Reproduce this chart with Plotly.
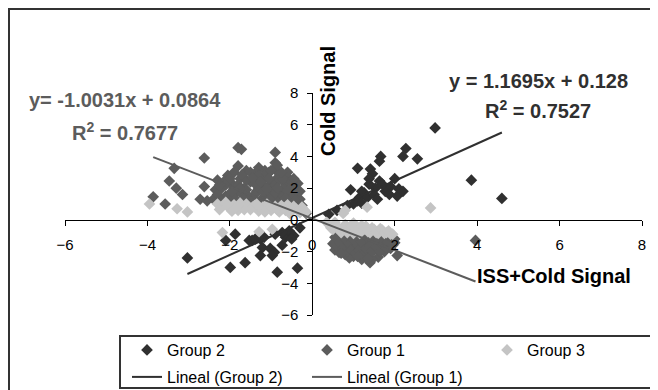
import plotly.graph_objects as go

# ---------------- data ----------------
g2_x = [2.98, 2.27, 2.2, 2.55, 1.66, 1.63, 1.1, 1.41, 1.46, 1.38, 0.93, 1.63, 2.0, 2.1, 2.06, 2.2,
        1.9, 1.77, 1.7, 1.53, 1.26, 1.14, 1.33, 1.5, 1.2, 1.87, 3.86, 4.6, 1.38, 1.58, 1.0, 1.1,
        0.85, 1.2, 0.6, 0.4,
        -3.03, -1.87, -2.1, -1.99, -1.63, -1.46, -1.26, -1.17, -1.21, -1.26, -1.02, -0.92, -0.97,
        -0.73, -0.65, -0.85, -0.36, -0.9, -0.56, -0.73, -1.53, -1.38, -0.45, -0.5, -0.3]
g2_y = [5.8, 4.5, 4.0, 3.85, 4.0, 3.7, 3.25, 3.2, 2.9, 2.6, 1.9, 2.45, 2.6, 1.95, 1.5, 1.8,
        2.1, 1.8, 2.25, 2.0, 1.7, 1.4, 1.4, 1.6, 1.8, 1.6, 2.5, 1.35, 2.25, 1.3, 1.0, 1.2,
        0.9, 1.05, 0.6, 0.35,
        -2.4, -0.9, -1.3, -3.0, -2.7, -1.3, -1.2, -1.1, -1.75, -2.25, -1.8, -2.05, -2.25,
        -1.6, -1.1, -3.3, -3.05, -0.9, -0.7, -0.8, -1.3, -1.2, -1.0, -1.2, -0.5]

g1_x = [-2.4, -2.35, -2.3, -2.25, -2.2, -2.1, -2.05, -2.0, -1.95, -1.9, -1.85, -1.8, -1.75, -1.7,
        -1.65, -1.6, -1.55, -1.5, -1.45, -1.4, -1.35, -1.3, -1.25, -1.2, -1.15, -1.1, -1.05, -1.0,
        -0.95, -0.9, -0.85, -0.8, -0.75, -0.7, -0.65, -0.6, -0.55, -0.5, -0.45, -0.4, -0.35, -0.3,
        -0.25, -0.2, -0.15, -1.9, -1.6, -1.3, -1.0, -0.7, -1.45, -1.2, -0.95, -2.15, -1.7, -1.35,
        -1.05, -0.8, -0.55, -2.0, -1.55, -1.15, -0.9, -0.6,
        -2.3, -2.2, -2.1, -2.0, -1.9, -1.8, -1.8, -1.7, -1.6, -1.5, -1.5, -1.4, -1.4, -1.3, -1.3,
        -1.2, -1.1, -1.1, -1.0, -1.0, -0.9, -0.9, -0.8, -0.8, -0.7, -0.7, -0.6, -0.6, -0.5, -0.5,
        -0.4, -0.4, -0.3, -1.65, -1.25, -0.85, -1.95, -2.25, -1.45, -1.05, -0.65, -1.75, -1.15,
        -0.75, -0.45,
        -1.8, -1.72, -0.9, -2.62, -0.9, -0.85, -3.35, -3.47, -3.3, -3.15, -3.86, -3.57, -2.72,
        -2.62, -2.55,
        0.5, 0.55, 0.6, 0.65, 0.7, 0.75, 0.8, 0.85, 0.9, 0.95, 1.0, 1.05, 1.1, 1.15, 1.2, 1.25,
        1.3, 1.35, 1.4, 1.45, 1.5, 1.55, 1.6, 1.65, 1.7, 1.75, 1.8, 1.85, 1.9, 1.95, 2.0, 2.06,
        1.0, 1.3, 1.6, 0.7, 1.2, 1.5, 0.9, 1.45,
        0.55, 0.6, 0.65, 0.75, 0.8, 0.85, 0.9, 0.95, 1.0, 1.05, 1.1, 1.15, 1.2, 1.25, 1.3, 1.35,
        1.4, 1.45, 1.5, 1.55, 1.6, 1.65, 1.7, 1.75, 1.8, 1.85, 1.9, 1.95, 2.0, 1.35, 1.1, 0.7,
        3.96]
g1_y = [1.3, 1.9, 2.5, 1.0, 2.0, 1.5, 2.8, 1.1, 2.3, 3.0, 1.7, 3.4, 2.6, 1.2,
        2.0, 3.1, 1.5, 2.4, 0.9, 2.9, 1.8, 3.3, 1.2, 2.2, 2.7, 1.6, 3.0, 1.0,
        2.0, 2.5, 1.4, 2.9, 1.8, 1.1, 2.3, 2.7, 1.5, 2.0, 1.0, 1.7, 2.3, 1.3,
        0.9, 0.6, 0.4, 2.0, 2.5, 2.0, 2.4, 2.0, 1.3, 1.4, 1.2, 2.4, 2.85, 2.6,
        1.8, 1.5, 1.2, 1.6, 1.1, 3.1, 3.2, 3.0,
        1.6, 1.2, 2.2, 2.6, 1.4, 2.2, 1.0, 1.6, 1.9, 1.1, 3.0, 2.3, 1.6, 2.8, 1.0,
        1.8, 2.0, 2.9, 1.4, 3.1, 1.7, 2.2, 1.2, 2.5, 1.5, 2.6, 1.8, 1.0, 2.4, 1.4,
        2.0, 1.2, 1.8, 1.3, 2.4, 2.0, 1.8, 2.2, 2.65, 2.6, 1.35, 2.0, 1.1,
        3.0, 2.6,
        4.55, 4.45, 4.25, 3.9, 3.6, 3.45, 3.25, 2.45, 2.0, 1.6, 1.45, 1.0, 1.3,
        2.1, 1.2,
        -1.5, -1.9, -1.2, -2.05, -1.6, -1.0, -2.2, -1.4, -1.8, -1.1, -2.3, -1.5, -2.0, -1.2, -2.5, -1.7,
        -1.0, -2.2, -2.7, -1.4, -1.9, -1.1, -2.35, -1.6, -1.2, -2.0, -1.5, -1.0, -1.8, -1.3, -1.45, -2.25,
        -1.7, -1.4, -1.9, -1.3, -1.0, -1.5, -2.4, -2.5,
        -1.1, -1.7, -1.4, -1.8, -1.2, -2.0, -1.5, -1.9, -1.2, -2.1, -1.6, -1.9, -1.4, -2.2, -1.8, -1.2,
        -1.6, -2.0, -1.2, -1.7, -1.3, -2.0, -1.6, -1.3, -1.8, -1.4, -1.1, -1.6, -1.2, -2.45, -2.3, -2.1,
        -1.3]

g3_x = [-2.3, -2.2, -2.1, -2.0, -1.9, -1.8, -1.7, -1.6, -1.5, -1.4, -1.3, -1.2, -1.1, -1.0, -0.9,
        -0.8, -0.7, -0.6, -0.5, -0.4, -0.3, -0.25, -3.95, -3.28, -3.03,
        -2.25, -2.05, -1.85, -1.65, -1.45, -1.25, -1.05, -0.85, -0.65, -0.45, -0.35, -0.15,
        -1.75, -1.15, -0.55, -0.75, -1.35, -1.95,
        -2.18, -1.29, -0.97,
        0.8, 1.33, 2.87, 0.75,
        0.4, 0.5, 0.6, 0.7, 0.8, 0.9, 1.0, 1.1, 1.2, 1.3, 1.4, 1.5, 1.6, 1.7, 1.8, 1.9, 0.55,
        0.45, 0.65, 0.75, 0.85, 0.95, 1.05, 1.15, 1.25, 1.35, 1.45, 1.55, 1.65, 1.75, 1.85, 1.95,
        1.0, 1.2, 0.35]
g3_y = [1.0, 0.8, 1.1, 0.7, 0.95, 0.6, 0.85, 1.0, 0.65, 0.9, 0.55, 0.8, 1.0, 0.6, 0.85,
        0.5, 0.75, 0.95, 0.55, 0.7, 0.45, 0.8, 1.0, 0.7, 0.5,
        0.65, 0.9, 0.75, 0.65, 0.8, 0.7, 0.8, 0.65, 0.6, 0.85, 0.6, 0.5,
        1.05, 0.5, 0.4, 0.9, 1.0, 0.55,
        -0.8, -0.75, -0.6,
        0.6, 0.8, 0.75, 0.4,
        -0.3, -0.6, -0.4, -0.8, -0.3, -0.6, -0.85, -0.5, -0.7, -0.4, -0.8, -0.6, -0.85, -0.65, -0.8, -0.9, -0.15,
        -0.5, -0.6, -0.5, -0.8, -0.4, -0.7, -0.85, -0.6, -0.75, -0.5, -0.8, -0.55, -0.85, -0.7, -0.9,
        -0.2, -0.35, -0.15]

# trendline coefficients (from the equations printed on the chart)
fit2_slope, fit2_icpt, fit2_r2 = 1.1695, 0.128, 0.7527
fit1_slope, fit1_icpt, fit1_r2 = -1.0031, 0.0864, 0.7677

x_ticks = [-6, -4, -2, 0, 2, 4, 6, 8]
y_ticks = [-6, -4, -2, 0, 2, 4, 6, 8]

# ---------------- figure ----------------
C2, C1, C3 = "#303030", "#5c5c5c", "#c4c4c4"
FONT = "Liberation Sans, Arial, sans-serif"
BOLD = "Liberation Sans, Arial, sans-serif"

fig = go.Figure()
fig.add_trace(go.Scatter(x=g2_x, y=g2_y, mode="markers", name="Group 2", legend="legend",
                         marker=dict(symbol="diamond", size=9, color=C2)))
fig.add_trace(go.Scatter(x=g1_x, y=g1_y, mode="markers", name="Group 1", legend="legend",
                         marker=dict(symbol="diamond", size=9, color=C1)))
fig.add_trace(go.Scatter(x=g3_x, y=g3_y, mode="markers", name="Group 3", legend="legend",
                         marker=dict(symbol="diamond", size=9, color=C3)))

t2x = [min(g2_x), max(g2_x)]
t1x = [min(g1_x), max(g1_x)]
fig.add_trace(go.Scatter(x=t2x, y=[fit2_slope * v + fit2_icpt for v in t2x], mode="lines",
                         name="Lineal (Group 2)", legend="legend2", line=dict(color=C2, width=2)))
fig.add_trace(go.Scatter(x=t1x, y=[fit1_slope * v + fit1_icpt for v in t1x], mode="lines",
                         name="Lineal (Group 1)", legend="legend2", line=dict(color=C1, width=2)))

# page has an 8px body margin, so the figure is 8px smaller than the window
OFF = 8
W, H = 650, 382
L, R, T, B = 57, 16, 85, 75
pw, ph = W - L - R, H - T - B


def px(xs):  # screen x (reference pixels) -> paper x
    return (xs - OFF - L) / pw


def py(ys):  # screen y (reference pixels) -> paper y
    return (H - B - (ys - OFF)) / ph


axis_common = dict(showgrid=False, zeroline=False, showline=True, linecolor="black", linewidth=1,
                   ticks="outside", ticklen=5, tickcolor="black", anchor="free",
                   tickfont=dict(family=FONT, size=15, color="black"))
fig.update_xaxes(range=[-6, 8], tickvals=x_ticks, position=6 / 14, ticklabelstandoff=6,
                 **axis_common)
fig.update_yaxes(range=[-6, 8], tickvals=y_ticks, position=6 / 14, ticklabelstandoff=6,
                 **axis_common)

annots = [
    dict(x=px(125), y=py(100), text=f"y= {fit1_slope}x + {fit1_icpt}", font=dict(color=C1, size=20)),
    dict(x=px(125), y=py(131), text=f"R<sup>2</sup> = {fit1_r2}", font=dict(color=C1, size=20)),
    dict(x=px(538), y=py(81), text=f"y = {fit2_slope}x + {fit2_icpt}", font=dict(color=C2, size=20)),
    dict(x=px(538), y=py(109), text=f"R<sup>2</sup> = {fit2_r2}", font=dict(color=C2, size=20)),
    dict(x=px(328), y=py(101), text="Cold Signal", textangle=-90, font=dict(color="black", size=20)),
    dict(x=px(475), y=py(276), text="ISS+Cold Signal", xanchor="left",
         font=dict(color="black", size=20)),
]
for a in annots:
    a["font"]["family"] = BOLD
    a["font"]["weight"] = "bold"
    a.setdefault("xanchor", "center")
    fig.add_annotation(xref="paper", yref="paper", showarrow=False, yanchor="middle", **a)

shapes = [
    dict(type="rect", xref="paper", yref="paper", x0=px(9), x1=px(W + 20), y0=py(H + 20), y1=py(9),
         line=dict(color="#333333", width=2), fillcolor="rgba(0,0,0,0)", layer="below"),
    dict(type="rect", xref="paper", yref="paper", x0=px(120), x1=px(657), y0=py(388), y1=py(336),
         line=dict(color="#333333", width=2), fillcolor="rgba(0,0,0,0)"),
]

leg_common = dict(orientation="h", xanchor="left", yanchor="middle",
                  entrywidth=135, entrywidthmode="pixels", bgcolor="rgba(0,0,0,0)",
                  borderwidth=0, font=dict(family=FONT, size=16, color="black"))

fig.update_layout(
    width=W, height=H,
    margin=dict(l=L, r=R, t=T, b=B, autoexpand=False),
    paper_bgcolor="white", plot_bgcolor="white",
    font=dict(family=FONT, color="black"),
    shapes=shapes,
    showlegend=True,
    legend=dict(x=px(127), y=py(350), **leg_common),
    legend2=dict(x=px(127), y=py(377), **leg_common),
)

fig.write_html("out.html")
